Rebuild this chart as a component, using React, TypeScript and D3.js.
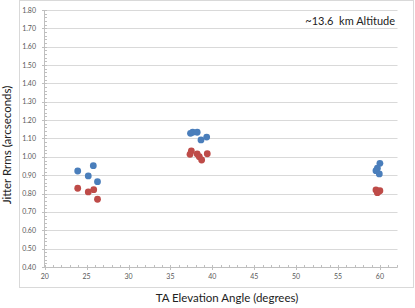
import React from "react";
import * as d3 from "d3";

const W = 415;
const H = 308;

const blueX = [23.94, 25.8, 25.2, 26.3, 37.4, 37.66, 38.2, 38.65, 39.33, 60.0, 59.7, 59.53, 59.93];
const blueY = [0.923, 0.952, 0.896, 0.865, 1.128, 1.134, 1.134, 1.092, 1.108, 0.965, 0.938, 0.925, 0.907];
const redX = [23.94, 25.2, 25.85, 26.3, 37.5, 37.34, 38.2, 38.45, 38.73, 39.4, 59.53, 59.8, 60.0, 59.7];
const redY = [0.829, 0.809, 0.821, 0.769, 1.032, 1.014, 1.016, 1.001, 0.983, 1.017, 0.82, 0.81, 0.816, 0.805];

const xTicks = [20, 25, 30, 35, 40, 45, 50, 55, 60];
const yTicks = [0.4, 0.5, 0.6, 0.7, 0.8, 0.9, 1.0, 1.1, 1.2, 1.3, 1.4, 1.5, 1.6, 1.7, 1.8];

const annotation = "~13.6  km Altitude";
const xTitle = "TA Elevation Angle (degrees)";
const yTitle = "Jitter Rrms (arcseconds)";

export default function App() {
  const x = d3.scaleLinear().domain([20, 62.1]).range([44.7, 397.5]);
  const y = d3.scaleLinear().domain([0.4, 1.8]).range([267, 10]);
  const xMinor = d3.range(20, 62.01, 1);
  const yMinor = d3.range(0.4, 1.8001, 0.02);
  const font = "Lato, 'Open Sans', sans-serif";
  return (
    <svg width={W} height={H} style={{ position: "absolute", left: 0, top: 0 }} fontFamily={font}>
      <rect x={0} y={0} width={W} height={H} fill="#fff" />
      <rect x={19.5} y={0.5} width={394} height={287} fill="none" stroke="#d9d9d9" />
      {yTicks.slice(1).map((t) => (
        <line key={"g" + t} x1={x(20)} x2={x(62.1)} y1={Math.round(y(t)) + 0.5} y2={Math.round(y(t)) + 0.5} stroke="#d9d9d9" />
      ))}
      <line x1={x(20)} x2={x(62.1)} y1={267.5} y2={267.5} stroke="#bfbfbf" />
      <line x1={44.5} x2={44.5} y1={y(1.8)} y2={267.5} stroke="#bfbfbf" />
      {xMinor.map((t) => (
        <line key={"xm" + t} x1={Math.round(x(t)) + 0.5} x2={Math.round(x(t)) + 0.5} y1={265} y2={267.5} stroke="#bfbfbf" />
      ))}
      {xTicks.map((t) => (
        <line key={"xM" + t} x1={Math.round(x(t)) + 0.5} x2={Math.round(x(t)) + 0.5} y1={267.5} y2={270} stroke="#bfbfbf" />
      ))}
      {yMinor.map((t, i) => (
        <line key={"ym" + i} x1={44.5} x2={47} y1={Math.round(y(t)) + 0.5} y2={Math.round(y(t)) + 0.5} stroke="#bfbfbf" />
      ))}
      {yTicks.map((t) => (
        <line key={"yM" + t} x1={42} x2={44.5} y1={Math.round(y(t)) + 0.5} y2={Math.round(y(t)) + 0.5} stroke="#bfbfbf" />
      ))}
      {yTicks.map((t) => (
        <text key={"yl" + t} x={36} y={y(t) + 2.5} fontSize={7} fill="#595959" textAnchor="end">
          {t.toFixed(2)}
        </text>
      ))}
      {xTicks.map((t) => (
        <text key={"xl" + t} x={x(t)} y={279} fontSize={7} fill="#595959" textAnchor="middle">
          {t}
        </text>
      ))}
      {blueX.map((v, i) => (
        <circle key={"b" + i} cx={x(v)} cy={y(blueY[i])} r={3.4} fill="#4a7ebb" />
      ))}
      {redX.map((v, i) => (
        <circle key={"r" + i} cx={x(v)} cy={y(redY[i])} r={3.4} fill="#be4b48" />
      ))}
      <text x={395} y={25} fontSize={11} fill="#222" textAnchor="end" style={{ whiteSpace: "pre" }}>
        {annotation}
      </text>
      <text x={227} y={302} fontSize={11.5} fill="#222" textAnchor="middle">
        {xTitle}
      </text>
      <text transform="translate(11,145) rotate(-90)" fontSize={11.5} fill="#222" textAnchor="middle">
        {yTitle}
      </text>
    </svg>
  );
}
